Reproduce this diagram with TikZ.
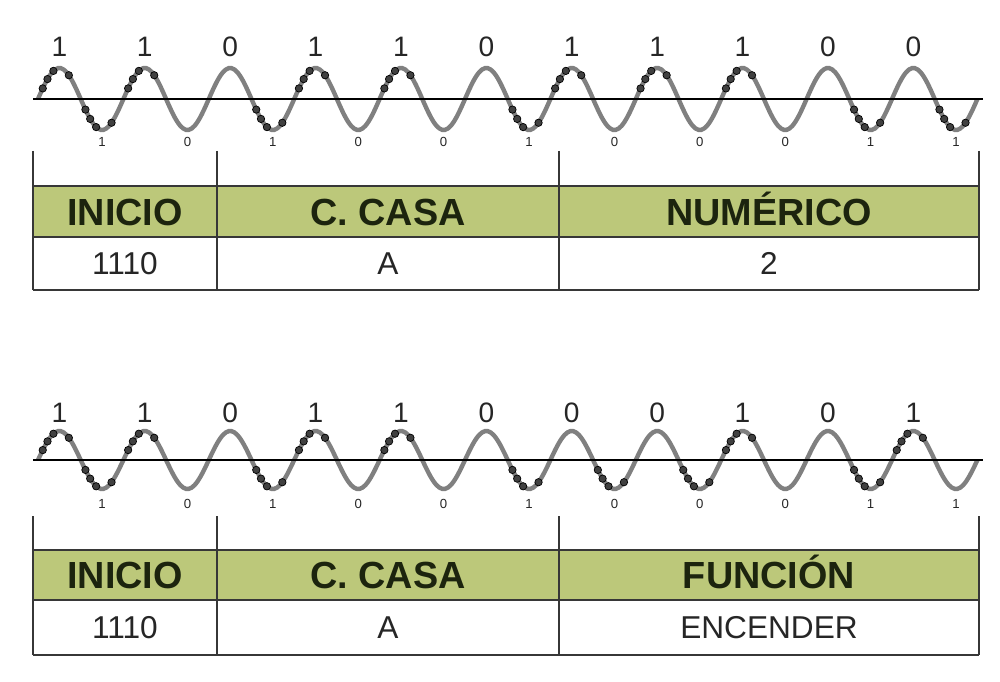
\documentclass[tikz,border=0pt]{standalone}
\usepackage{fontspec}
\setmainfont{Liberation Sans}
\definecolor{verde}{RGB}{188,200,122}
\definecolor{onda}{RGB}{128,128,128}
\definecolor{tinta}{RGB}{28,36,14}
\definecolor{linea}{RGB}{55,55,55}
\tikzset{
  wave/.style={onda, line width=2.5pt},
  eje/.style={black, line width=1.1pt},
  burst/.style={circle, fill=black!75, draw=black, line width=0.4pt, inner sep=0pt, minimum size=4.2pt},
  bitup/.style={font=\fontsize{16}{16}\selectfont, text=black!85},
  bitdown/.style={font=\fontsize{7.5}{7.5}\selectfont, text=black!85},
  grid/.style={linea, line width=0.8pt},
  band/.style={linea, line width=1.1pt},
  head/.style={anchor=base, font=\fontsize{21.5}{22}\selectfont\bfseries, text=tinta},
  cell/.style={anchor=base, font=\fontsize{18}{18}\selectfont, text=black!85},
}
\begin{document}
\begin{tikzpicture}[x=0.02cm, y=-0.02cm]
  \useasboundingbox[fill=white] (0,0) rectangle (1000,682);
  \pgfmathsetmacro{\per}{85.4}
  \pgfmathsetmacro{\xo}{38}
  % the two carriers with their bursts
  \foreach \ye/\amp/\yu/\yl/\bits/\dotsup/\dotsdn [count=\w] in {
      99/31/47/142/{1,1,0,1,1,0,1,1,1,0,0}/{0,1,3,4,6,7,8}/{0,2,5,9,10},
      460/29/413/504/{1,1,0,1,1,0,0,0,1,0,1}/{0,1,3,4,8,10}/{0,2,5,6,7,9}} {
    \draw[wave] plot[domain=0:3960, samples=331, smooth] ({\xo+\x/360*\per}, {\ye-\amp*sin(\x)});
    \draw[eje] (33,\ye) coordinate (ejeA\w) -- (983,\ye) coordinate (ejeB\w);
    \foreach \b [count=\k from 0] in \bits
      \node[bitup] (up\w-\k) at ({\xo+(\k+0.25)*\per}, \yu) {\b};
    \foreach \b [count=\k from 0] in {1,0,1,0,0,1,0,0,0,1,1}
      \node[bitdown] (dn\w-\k) at ({\xo+(\k+0.75)*\per}, \yl) {\b};
    \foreach \k in \dotsup
      \foreach \f in {20,40,65,130}
        \node[burst] (p\w-\k-\f) at ({\xo+(\k+\f/360)*\per}, {\ye-\amp*sin(\f)}) {};
    \foreach \k in \dotsdn
      \foreach \f in {200,220,245,310}
        \node[burst] (n\w-\k-\f) at ({\xo+(\k+\f/360)*\per}, {\ye-\amp*sin(\f)}) {};
  }
  % the two frames
  \foreach \ya/\yb/\yc/\yd/\campo/\valor [count=\t] in {
      151/186/237/290/NUMÉRICO/2,
      516/550/600/655/FUNCIÓN/ENCENDER} {
    \fill[verde] (33,\yb) rectangle (979,\yc);
    \foreach \xx in {33,217,559,979}
      \draw[grid] (\xx,\ya) -- (\xx,\yd);
    \draw[band] (33,\yb) -- (979,\yb) (33,\yc) -- (979,\yc);
    \draw[grid] (33,\yd) -- (979,\yd);
    \node[head] (ini\t) at (125, {(\yb+\yc)/2+13.5}) {INICIO};
    \node[head] (casa\t) at (388, {(\yb+\yc)/2+13.5}) {C. CASA};
    \node[head] (campo\t) at (769, {(\yb+\yc)/2+13.5}) {\campo};
    \node[cell] (cod\t) at (125, {(\yc+\yd)/2+11.4}) {1110};
    \node[cell] (letra\t) at (388, {(\yc+\yd)/2+11.4}) {A};
    \node[cell] (val\t) at (769, {(\yc+\yd)/2+11.4}) {\valor};
  }
\end{tikzpicture}
\end{document}
